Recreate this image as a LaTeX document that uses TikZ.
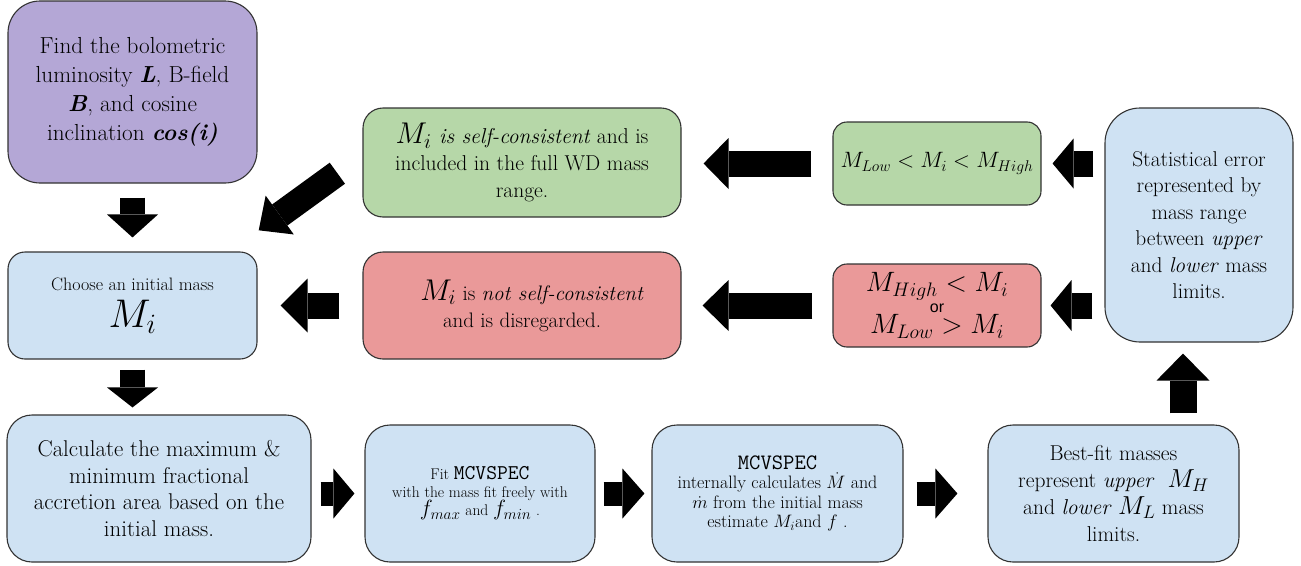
\RequirePackage{fix-cm}
\documentclass[tikz,border=0pt]{standalone}
\usepackage{fontspec}
\newfontfamily\arialfont{Liberation Sans}
\usetikzlibrary{arrows.meta}
\definecolor{cpurple}{HTML}{B4A7D6}
\definecolor{cgreen}{HTML}{B6D7A8}
\definecolor{cred}{HTML}{EA9999}
\definecolor{cblue}{HTML}{CFE2F3}
\newcommand\nolsk{\lineskiplimit -100pt\relax}
\begin{document}
\begin{tikzpicture}[x=1pt,y=-1pt,
  box/.style={draw=black!80, line width=1.1pt, align=center, inner sep=0pt, text=black},
  blk/.style={draw=black, line width=26pt, -{Triangle[length=25pt,width=51pt,line width=0pt]}},
  blkv/.style={draw=black, line width=25pt, -{Triangle[length=23pt,width=51pt,line width=0pt]}},
  blkr/.style={draw=black, line width=24pt, -{Triangle[length=21pt,width=50pt,line width=0pt]}},
  blku/.style={draw=black, line width=27pt, -{Triangle[length=27pt,width=53pt,line width=0pt]}}
]
\useasboundingbox (0,0) rectangle (1301,565);

% boxes
\node[box, fill=cpurple, rounded corners=32pt, minimum width=249pt, minimum height=182pt,
  font=\fontsize{23.2}{29}\selectfont] (find) at (132.5,92)
  {Find the bolometric\\ luminosity \textbf{\textit{L}}, B-field\\ \textbf{\textit{B}}, and cosine\\ inclination \textbf{\textit{cos(i)}}};

\node[box, fill=cblue, rounded corners=17pt, minimum width=249pt, minimum height=107pt,
  font=\fontsize{18}{37}\selectfont] (choose) at (132.5,305.5)
  {Choose an initial mass\\ {\fontsize{40}{37}\selectfont$M_i$}};

\node[box, fill=cblue, rounded corners=25pt, minimum width=304pt, minimum height=147pt,
  font=\fontsize{22.8}{26.5}\selectfont] (calc) at (159,488.5)
  {Calculate the maximum \&\\ minimum fractional\\ accretion area based on the\\ initial mass.};

\node[box, fill=cgreen, rounded corners=20pt, minimum width=318pt, minimum height=109pt,
  font=\fontsize{21.5}{27}\selectfont] (gb) at (522,162.5)
  {{\fontsize{30}{27}\selectfont$M_i$}\textit{ is self-consistent} and is\\ included in the full WD mass\\ range.};

\node[box, fill=cred, rounded corners=20pt, minimum width=318pt, minimum height=107pt,
  font=\fontsize{21}{27}\selectfont] (rb) at (522,305.5)
  {\hspace*{20pt}{\fontsize{30}{27}\selectfont$M_i$} is \textit{not self-consistent}\\ and is disregarded.};

\node[box, fill=cgreen, rounded corners=14pt, minimum width=208pt, minimum height=83pt,
  font=\fontsize{22.2}{27}\selectfont] (gs) at (937,163.5)
  {$M_{Low} < M_i < M_{High}$};

\node[box, fill=cred, rounded corners=14pt, minimum width=208pt, minimum height=83pt,
  font=\fontsize{28}{21}\selectfont\nolsk] (rs) at (937,305.5)
  {$M_{High} < M_i$\\ {\arialfont\fontsize{16}{21}\selectfont or}\\ $M_{Low} > M_i$};

\node[box, fill=cblue, rounded corners=35pt, minimum width=188pt, minimum height=234pt,
  font=\fontsize{21.4}{26.5}\selectfont] (stat) at (1199,225)
  {Statistical error\\ represented by\\ mass range\\ between \textit{upper}\\ and \textit{lower} mass\\ limits.};

\node[box, fill=cblue, rounded corners=25pt, minimum width=230pt, minimum height=137pt,
  font=\fontsize{15.5}{18}\selectfont\nolsk] (fit) at (480,493.5)
  {Fit {\ttfamily\fontsize{21}{18}\selectfont MCVSPEC}\\ with the mass fit freely with\\ {\fontsize{22}{18}\selectfont$f_{max}$} and {\fontsize{22}{18}\selectfont$f_{min}$} .};

\node[box, fill=cblue, rounded corners=25pt, minimum width=251pt, minimum height=137pt,
  font=\fontsize{18}{19.5}\selectfont\nolsk] (mcv) at (777.5,493.5)
  {{\ttfamily\fontsize{22}{19.5}\selectfont MCVSPEC}\\ internally calculates $\dot{M}$ and\\ $\dot{m}$ from the initial mass\\ estimate $M_i$and $f$ .};

\node[box, fill=cblue, rounded corners=25pt, minimum width=251pt, minimum height=137pt,
  font=\fontsize{21.5}{27}\selectfont] (best) at (1113.5,493.5)
  {Best-fit masses\\ represent \textit{upper} \ {\fontsize{26}{27}\selectfont$M_H$}\\ and \textit{lower} {\fontsize{26}{27}\selectfont$M_L$} mass\\ limits.};

% connectors
\draw[blkv, shorten <=14pt, shorten >=14pt] (find.south) -- (choose.north);
\draw[blkv, -{Triangle[length=20pt,width=51pt,line width=0pt]}, shorten <=10pt, shorten >=7pt] (choose.south) -- (choose.south |- calc.north);
\draw[blk, -{Triangle[length=26pt,width=48pt,line width=0pt]}, shorten <=31pt, shorten >=36pt] ([yshift=7.5pt]gb.west) -- ([xshift=-28pt]choose.north east);
\draw[blk, -{Triangle[length=27pt,width=54pt,line width=0pt]}, shorten <=23pt, shorten >=23pt] (rb.west) -- (choose.east);
\draw[blk, shorten <=21pt, shorten >=22pt] (gs.west) -- (gs.west -| gb.east);
\draw[blk, -{Triangle[length=26pt,width=51pt,line width=0pt]}, shorten <=20pt, shorten >=21pt] (rs.west) -- (rb.east);
\draw[blk, -{Triangle[length=21pt,width=50pt,line width=0pt]}, shorten <=11pt, shorten >=11pt] (gs.east -| stat.west) -- (gs.east);
\draw[blk, -{Triangle[length=21pt,width=51pt,line width=0pt]}, shorten <=12pt, shorten >=9pt] (rs.east -| stat.west) -- (rs.east);
\draw[blkr, shorten <=9pt, shorten >=10pt] (fit.west -| calc.east) -- (fit.west);
\draw[blkr, -{Triangle[length=22pt,width=50pt,line width=0pt]}, shorten <=8pt, shorten >=7pt] (fit.east) -- (mcv.west);
\draw[blkr, -{Triangle[length=22pt,width=50pt,line width=0pt]}, shorten <=13pt, shorten >=30pt] (mcv.east) -- (best.west);
\draw[blku, shorten <=11pt, shorten >=11pt] ([xshift=69.5pt]best.north) -- ([xshift=-16pt]stat.south);
\end{tikzpicture}
\end{document}
